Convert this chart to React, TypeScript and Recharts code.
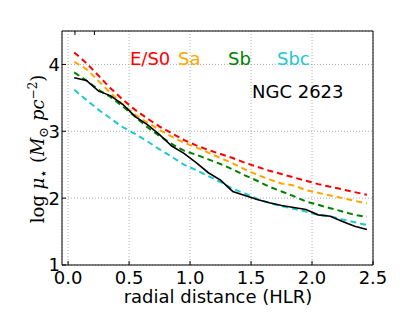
import React from "react";
import {
  LineChart,
  Line,
  XAxis,
  YAxis,
  CartesianGrid,
  Customized,
} from "recharts";

const radius = [0.05, 0.15, 0.25, 0.35, 0.45, 0.55, 0.65, 0.75, 0.85, 0.95, 1.05, 1.15, 1.25, 1.35, 1.45, 1.55, 1.65, 1.75, 1.85, 1.95, 2.05, 2.15, 2.25, 2.35, 2.45];
const ngc2623 = [3.8, 3.76, 3.6, 3.53, 3.4, 3.22, 3.1, 2.95, 2.78, 2.67, 2.53, 2.38, 2.27, 2.1, 2.04, 1.98, 1.93, 1.89, 1.86, 1.83, 1.75, 1.73, 1.65, 1.58, 1.53];
const es0 = [4.18, 4.02, 3.83, 3.64, 3.47, 3.32, 3.19, 3.07, 2.97, 2.87, 2.79, 2.72, 2.66, 2.6, 2.53, 2.47, 2.41, 2.36, 2.31, 2.26, 2.21, 2.17, 2.13, 2.09, 2.05];
const sa = [4.04, 3.93, 3.75, 3.57, 3.4, 3.25, 3.13, 3.02, 2.92, 2.83, 2.76, 2.68, 2.6, 2.52, 2.43, 2.35, 2.28, 2.22, 2.19, 2.12, 2.08, 2.04, 2.0, 1.96, 1.92];
const sb = [3.88, 3.76, 3.62, 3.51, 3.37, 3.22, 3.06, 2.93, 2.81, 2.71, 2.65, 2.58, 2.51, 2.43, 2.34, 2.26, 2.17, 2.1, 2.03, 1.95, 1.9, 1.85, 1.8, 1.75, 1.72];
const sbc = [3.62, 3.47, 3.32, 3.19, 3.06, 2.96, 2.85, 2.73, 2.62, 2.5, 2.42, 2.33, 2.24, 2.14, 2.07, 1.99, 1.93, 1.88, 1.84, 1.8, 1.75, 1.73, 1.68, 1.64, 1.6];

const xTicks = [0, 0.5, 1, 1.5, 2, 2.5];
const yTicks = [1, 2, 3, 4];

const data = radius.map((r, i) => ({
  r,
  galaxy: ngc2623[i],
  es0: es0[i],
  sa: sa[i],
  sb: sb[i],
  sbc: sbc[i],
}));

const FONT = "DejaVu Sans, sans-serif";
const SERIF = "DejaVu Serif, serif";

const emptyTick = () => <g />;

function Texts() {
  return (
    <g>
      <text x={130} y={65} fontFamily={FONT} fontSize={18} fill="#ff0000">E/S0</text>
      <text x={178} y={65} fontFamily={FONT} fontSize={18} fill="#ffa500">Sa</text>
      <text x={228} y={65} fontFamily={FONT} fontSize={18} fill="#008000">Sb</text>
      <text x={277} y={65} fontFamily={FONT} fontSize={18} fill="#20c8d0">Sbc</text>
      <text x={252} y={98} fontFamily={FONT} fontSize={18} fill="#000">NGC 2623</text>
      <text x={218} y={303} textAnchor="middle" fontFamily={FONT} fontSize={18} fill="#000">
        radial distance (HLR)
      </text>
      <text
        transform="translate(44,149) rotate(-90)"
        textAnchor="middle"
        fontFamily={SERIF}
        fontSize={18}
        fill="#000"
      >
        <tspan>log </tspan>
        <tspan fontStyle="italic">μ</tspan>
        <tspan fontSize={14} dy={4}>⋆</tspan>
        <tspan dy={-4}> (</tspan>
        <tspan fontStyle="italic">M</tspan>
        <tspan fontSize={13} dy={4}>⊙</tspan>
        <tspan fontStyle="italic" dy={-4}> pc</tspan>
        <tspan fontSize={12} dy={-7}>−2</tspan>
        <tspan dy={7}>)</tspan>
      </text>
    </g>
  );
}

export default function App() {
  const dash = "6 4";
  return (
    <div style={{ position: "absolute", left: 0, top: 0, background: "#fff" }}>
      <LineChart
        width={415}
        height={312}
        data={data}
        margin={{ top: 0, right: 0, bottom: 17, left: 0 }}
      >
        <CartesianGrid stroke="#999" strokeDasharray="1 2" strokeWidth={0.8} />
        <XAxis
          dataKey="r"
          type="number"
          domain={[-0.05, 2.5]}
          ticks={xTicks}
          tickFormatter={(v: number) => v.toFixed(1)}
          height={30}
          stroke="#000"
          tickSize={-4}
          tickMargin={10}
          tick={{ fill: "#000", fontSize: 18, fontFamily: FONT }}
          allowDataOverflow
        />
        <XAxis
          xAxisId="top"
          orientation="top"
          type="number"
          domain={[-0.05, 2.5]}
          ticks={xTicks}
          height={31}
          stroke="#000"
          tickSize={-4}
          tick={emptyTick}
        />
        <YAxis
          type="number"
          domain={[1, 4.5]}
          ticks={yTicks}
          width={62}
          stroke="#000"
          tickSize={-4}
          tickMargin={6}
          tick={{ fill: "#000", fontSize: 18, fontFamily: FONT }}
          allowDataOverflow
        />
        <YAxis
          yAxisId="right"
          orientation="right"
          type="number"
          domain={[1, 4.5]}
          ticks={yTicks}
          width={42}
          stroke="#000"
          tickSize={-4}
          tick={emptyTick}
        />
        <Line dataKey="es0" stroke="#ff0000" strokeWidth={2} strokeDasharray={dash} dot={false} isAnimationActive={false} />
        <Line dataKey="sa" stroke="#ffa500" strokeWidth={2} strokeDasharray={dash} dot={false} isAnimationActive={false} />
        <Line dataKey="sb" stroke="#008000" strokeWidth={2} strokeDasharray={dash} dot={false} isAnimationActive={false} />
        <Line dataKey="sbc" stroke="#20c8d0" strokeWidth={2} strokeDasharray={dash} dot={false} isAnimationActive={false} />
        <Line dataKey="galaxy" stroke="#000" strokeWidth={1.6} dot={false} isAnimationActive={false} />
        <Customized component={Texts} />
      </LineChart>
    </div>
  );
}
